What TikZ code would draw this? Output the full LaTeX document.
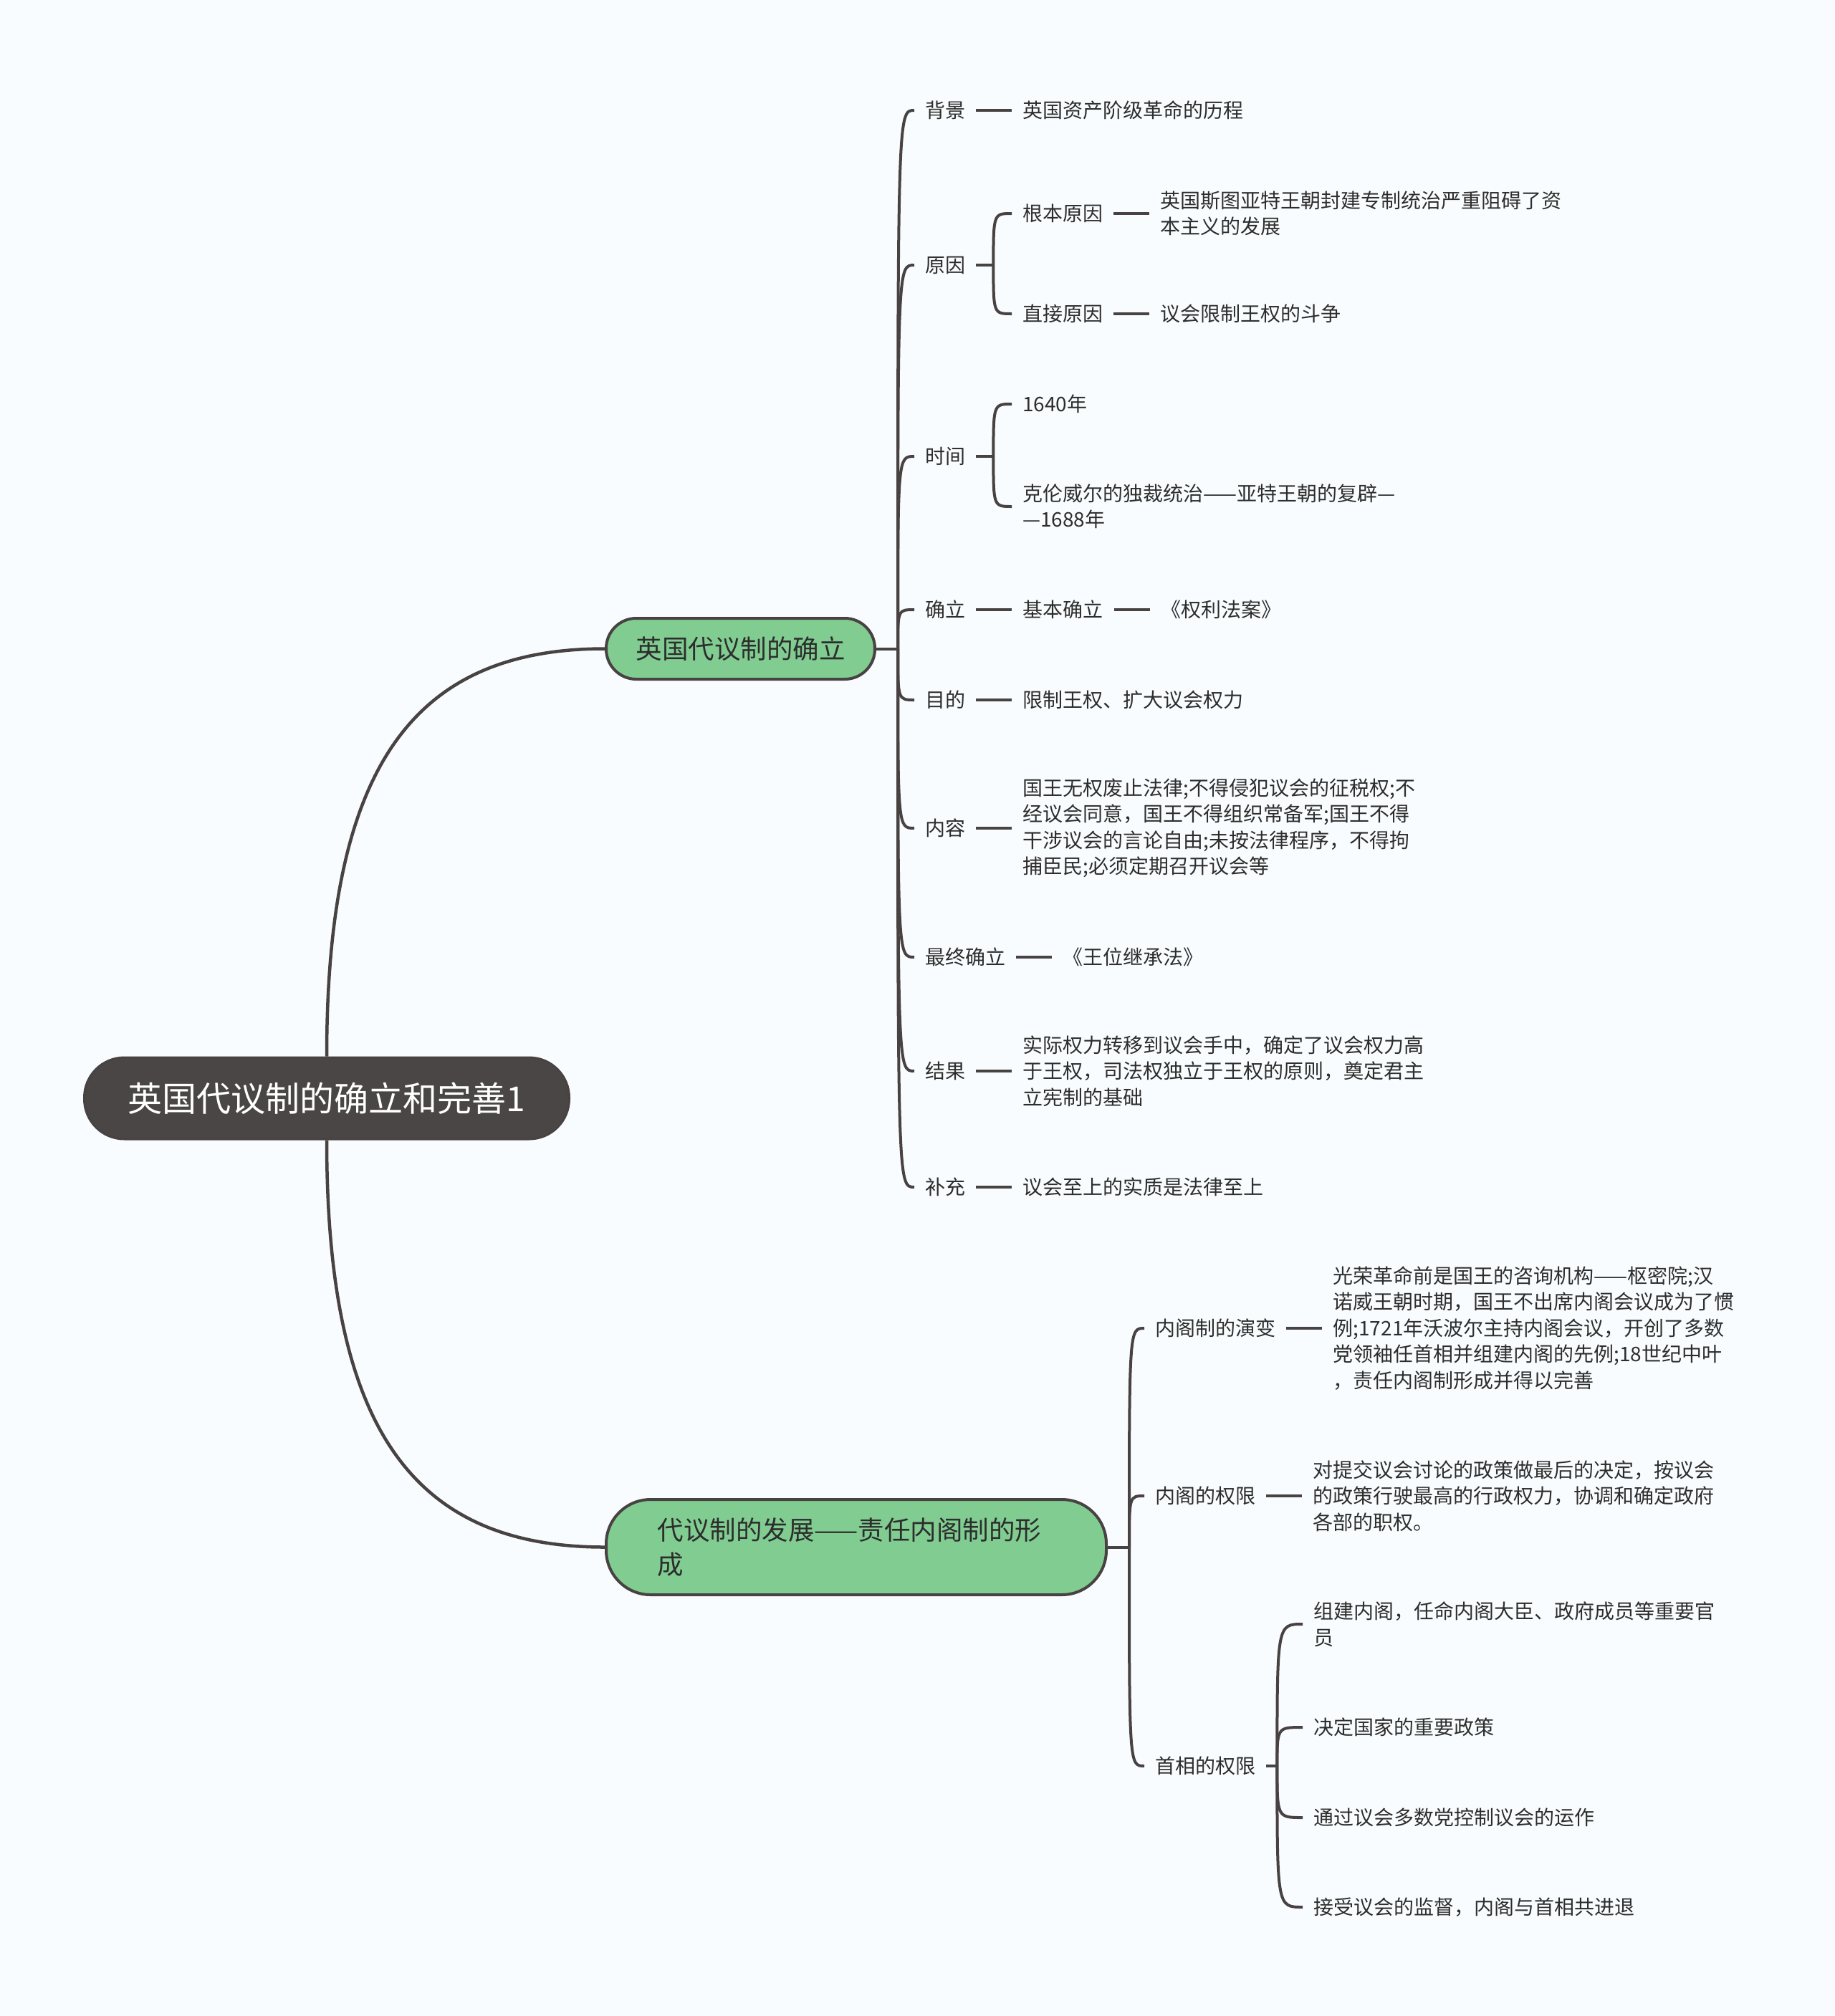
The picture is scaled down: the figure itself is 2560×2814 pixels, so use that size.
\documentclass[tikz,border=0pt]{standalone}
\usepackage{fontspec}
\setmainfont{Noto Sans CJK SC}
\usetikzlibrary{positioning,calc,backgrounds}
\definecolor{bgc}{RGB}{249,252,254}
\definecolor{lnc}{RGB}{72,66,66}
\definecolor{rootfill}{RGB}{75,70,70}
\definecolor{grn}{RGB}{128,204,145}
\definecolor{txtc}{RGB}{45,45,45}
\begin{document}
\begin{tikzpicture}[x=1pt,y=-1pt,
  leaf/.style={inner xsep=15pt, inner ysep=4pt, anchor=west, align=left,
    font=\fontsize{28}{36.5}\selectfont, text=txtc},
  rootbox/.style={fill=rootfill, draw=lnc, line width=3pt, text=white,
    font=\fontsize{48}{58}\selectfont, minimum width=677pt, minimum height=114pt,
    rounded corners=56pt, inner sep=0pt},
  mainbox/.style={fill=grn, draw=lnc, line width=4pt, text=txtc,
    font=\fontsize{36.5}{48}\selectfont, inner ysep=0pt},
  conn/.style={draw=lnc, line width=4pt},
  thick conn/.style={draw=lnc, line width=4.5pt}
]
\useasboundingbox (0,0) rectangle (2560,2814);

% root and main branches
\node[rootbox] (root) at (456,1533) {英国代议制的确立和完善1};
\node[mainbox, inner xsep=0pt, minimum width=375pt, minimum height=85pt, rounded corners=42pt] (b1) at (1033.5,905.5) {英国代议制的确立};
\node[mainbox, inner xsep=71.5pt, text width=555pt, minimum height=133pt, rounded corners=62pt, align=left] (b2) at (1195,2159.5) {代议制的发展——责任内阁制的形\\成};

\coordinate (sp1) at ($(b1.east)+(30,0)$);
\coordinate (sp2) at ($(b2.east)+(30,0)$);

% branch 1
\node[leaf] (bj) at (1276,154) {背景};
\node[leaf, right=50pt of bj] (bjc) {英国资产阶级革命的历程};
\node[leaf] (yy) at (1276,370) {原因};
\coordinate (yys) at ($(yy.east)+(24,0)$);
\node[leaf] (gb) at (1412,298) {根本原因};
\node[leaf, right=50pt of gb] (gbc) {英国斯图亚特王朝封建专制统治严重阻碍了资\\本主义的发展};
\node[leaf] (zj) at (1412,438) {直接原因};
\node[leaf, right=50pt of zj] (zjc) {议会限制王权的斗争};
\node[leaf] (sj) at (1276,637) {时间};
\coordinate (sjs) at ($(sj.east)+(24,0)$);
\node[leaf] (t1) at (1412,564) {1640年};
\node[leaf] (t2) at (1412,707) {克伦威尔的独裁统治——亚特王朝的复辟—\\—1688年};
\node[leaf] (ql) at (1276,851) {确立};
\node[leaf, right=50pt of ql] (jb) {基本确立};
\node[leaf, right=50pt of jb] (qlc) {《权利法案》};
\node[leaf] (md) at (1276,977) {目的};
\node[leaf, right=50pt of md] (mdc) {限制王权、扩大议会权力};
\node[leaf] (nr) at (1276,1156) {内容};
\node[leaf, right=50pt of nr] (nrc) {国王无权废止法律;不得侵犯议会的征税权;不\\经议会同意，国王不得组织常备军;国王不得\\干涉议会的言论自由;未按法律程序，不得拘\\捕臣民;必须定期召开议会等};
\node[leaf] (zz) at (1276,1336) {最终确立};
\node[leaf, right=50pt of zz] (zzc) {《王位继承法》};
\node[leaf] (jg) at (1276,1495) {结果};
\node[leaf, right=50pt of jg] (jgc) {实际权力转移到议会手中，确定了议会权力高\\于王权，司法权独立于王权的原则，奠定君主\\立宪制的基础};
\node[leaf] (bc) at (1276,1657) {补充};
\node[leaf, right=50pt of bc] (bcc) {议会至上的实质是法律至上};

% branch 2
\node[leaf] (yb) at (1597,1854) {内阁制的演变};
\node[leaf, right=50pt of yb] (ybc) {光荣革命前是国王的咨询机构——枢密院;汉\\诺威王朝时期，国王不出席内阁会议成为了惯\\例;1721年沃波尔主持内阁会议，开创了多数\\党领袖任首相并组建内阁的先例;18世纪中叶\\，责任内阁制形成并得以完善};
\node[leaf] (nq) at (1597,2088) {内阁的权限};
\node[leaf, right=50pt of nq] (nqc) {对提交议会讨论的政策做最后的决定，按议会\\的政策行驶最高的行政权力，协调和确定政府\\各部的职权。};
\node[leaf] (sx) at (1597,2465) {首相的权限};
\coordinate (sxs) at ($(sx.east)+(15,0)$);
\node[leaf] (s1) at (1818,2267) {组建内阁，任命内阁大臣、政府成员等重要官\\员};
\node[leaf] (s2) at (1818,2411) {决定国家的重要政策};
\node[leaf] (s3) at (1818,2537) {通过议会多数党控制议会的运作};
\node[leaf] (s4) at (1818,2662) {接受议会的监督，内阁与首相共进退};

\begin{pgfonlayer}{background}
\fill[bgc] (0,0) rectangle (2560,2814);
% root curves
\draw[thick conn] (root.north) .. controls ($(root.north)!0.7!(root.north |- b1.west)$) and ($(b1.west)!0.7!(root.north |- b1.west)$) .. (b1.west);
\draw[thick conn] (root.south) .. controls ($(root.south)!0.7!(root.south |- b2.west)$) and ($(b2.west)!0.7!(root.south |- b2.west)$) .. (b2.west);
% branch 1 spine
\draw[conn] (b1.east) -- (sp1);
\foreach \n in {bj,yy,sj,ql,md,nr,zz,jg,bc}
  \draw[conn] (sp1) .. controls (sp1 |- \n.west) .. (\n.west);
% branch 2 spine
\draw[conn] (b2.east) -- (sp2);
\foreach \n in {yb,nq,sx}
  \draw[conn] (sp2) .. controls (sp2 |- \n.west) .. (\n.west);
% brackets
\draw[conn] (yy.east) -- (yys);
\foreach \n in {gb,zj}
  \draw[conn] (yys) .. controls (yys |- \n.west) .. (\n.west);
\draw[conn] (sj.east) -- (sjs);
\foreach \n in {t1,t2}
  \draw[conn] (sjs) .. controls (sjs |- \n.west) .. (\n.west);
\draw[conn] (sx.east) -- (sxs);
\foreach \n in {s1,s2,s3,s4}
  \draw[conn] (sxs) .. controls (sxs |- \n.west) .. (\n.west);
% straight dashes
\draw[conn] (bj.east) -- (bjc.west);
\draw[conn] (gb.east) -- (gbc.west);
\draw[conn] (zj.east) -- (zjc.west);
\draw[conn] (ql.east) -- (jb.west);
\draw[conn] (jb.east) -- (qlc.west);
\draw[conn] (md.east) -- (mdc.west);
\draw[conn] (nr.east) -- (nrc.west);
\draw[conn] (zz.east) -- (zzc.west);
\draw[conn] (jg.east) -- (jgc.west);
\draw[conn] (bc.east) -- (bcc.west);
\draw[conn] (yb.east) -- (ybc.west);
\draw[conn] (nq.east) -- (nqc.west);
\end{pgfonlayer}
\end{tikzpicture}
\end{document}
